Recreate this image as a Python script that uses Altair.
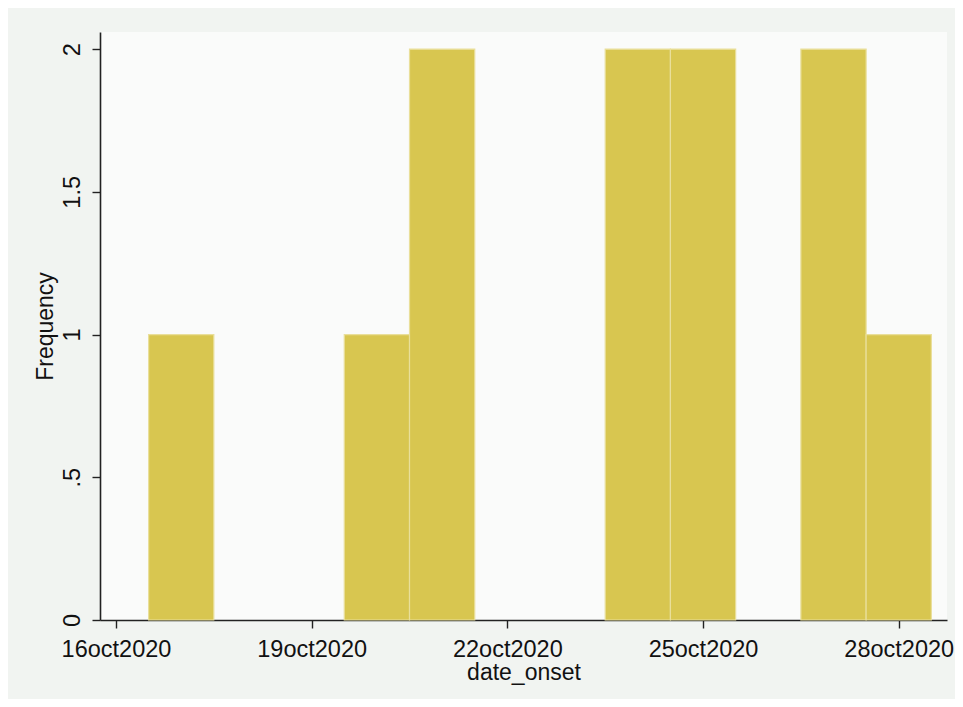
import altair as alt
import pandas as pd

# Histogram of onset dates (bin width = 1 day)
dates = ["17oct2020", "20oct2020", "21oct2020", "24oct2020", "25oct2020", "27oct2020", "28oct2020"]
freq = [1, 1, 2, 2, 2, 2, 1]
x_ticks = [16, 19, 22, 25, 28]          # day of October 2020
y_ticks = [0, 0.5, 1, 1.5, 2]

day = [int(d[:2]) for d in dates]
df = pd.DataFrame({"date": dates, "day": day, "freq": freq})
df["lo"] = df["day"] - 0.5
df["hi"] = df["day"] + 0.5
df["base"] = 0

FONT = "Liberation Sans"

bars = alt.Chart(df).mark_bar(
    color="#D8C650", stroke="#E9DF9A", strokeWidth=1.2
).encode(
    x=alt.X("lo:Q",
            scale=alt.Scale(domain=[15.755, 28.74], nice=False, zero=False),
            axis=alt.Axis(values=x_ticks, title="date_onset",
                          labelExpr="datum.value + 'oct2020'")),
    x2="hi:Q",
    y=alt.Y("freq:Q",
            scale=alt.Scale(domain=[0, 2.06], nice=False),
            axis=alt.Axis(values=y_ticks, title="Frequency",
                          labelExpr="datum.value == 0.5 ? '.5' : format(datum.value, '~g')",
                          labelAngle=-90, labelAlign="center", labelBaseline="bottom")),
    y2="base:Q",
)

chart = bars.properties(
    width=847, height=588,
    autosize=alt.AutoSizeParams(type="none"),
    padding={"left": 92, "top": 24, "right": 8, "bottom": 79},
    background="#F1F4F1",
).configure_view(
    fill="#FAFBFA", stroke=None
).configure_axis(
    grid=False,
    domainColor="#222222", domainWidth=1.6,
    tickColor="#222222", tickWidth=1.4, tickSize=8,
    labelFont=FONT, labelFontSize=23.5, labelColor="#111111",
    titleFont=FONT, titleFontSize=23, titleFontWeight="normal", titleColor="#111111",
).configure_axisX(
    titlePadding=1, labelPadding=9,
).configure_axisY(
    titlePadding=3, labelPadding=8,
)

chart.save("out.html", embed_options={"renderer": "svg", "actions": False})
